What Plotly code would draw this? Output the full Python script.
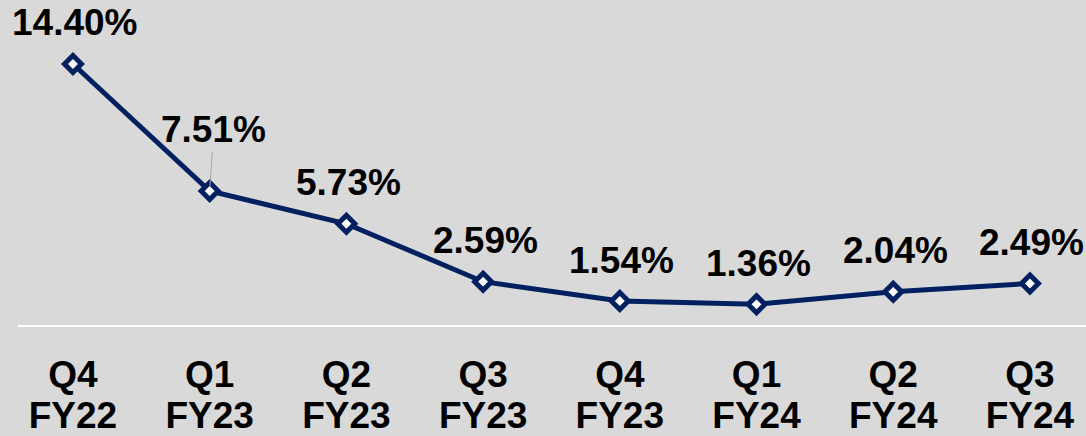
import plotly.graph_objects as go

quarter_names = ["Q4", "Q1", "Q2", "Q3", "Q4", "Q1", "Q2", "Q3"]
fiscal_years = ["FY22", "FY23", "FY23", "FY23", "FY23", "FY24", "FY24", "FY24"]
rates = [14.40, 7.51, 5.73, 2.59, 1.54, 1.36, 2.04, 2.49]
labels = ["14.40%", "7.51%", "5.73%", "2.59%", "1.54%", "1.36%", "2.04%", "2.49%"]

NAVY = "#002060"
BG = "#d9d9d9"
FONT = "Liberation Sans, Arial, sans-serif"
FSIZE = 37

pos = list(range(len(rates)))

fig = go.Figure()
fig.add_trace(go.Scatter(
    x=pos,
    y=rates,
    mode="lines+markers",
    line=dict(color=NAVY, width=5),
    marker=dict(symbol="diamond", size=13, color="white",
                line=dict(color=NAVY, width=5)),
    hoverinfo="skip",
))
# invisible trace so the second (year) axis gets drawn
fig.add_trace(go.Scatter(x=pos, y=rates, xaxis="x2", mode="none",
                         hoverinfo="skip"))

annotations = []
for i, (v, t) in enumerate(zip(rates, labels)):
    if i == 1:
        # this one sits higher with a small leader line
        annotations.append(dict(
            x=i, y=v, text=t, showarrow=True, arrowhead=0, arrowwidth=1,
            arrowcolor="#a6a6a6", ax=4, ay=-61, standoff=5,
            font=dict(family=FONT, size=FSIZE, color="black", weight="bold"),
        ))
    else:
        annotations.append(dict(
            x=i, y=v, text=t, showarrow=False, yshift=41, xshift=2,
            font=dict(family=FONT, size=FSIZE, color="black", weight="bold"),
        ))

tickfont = dict(family=FONT, size=FSIZE, color="black", weight="bold")

fig.update_layout(
    width=1086, height=436,
    margin=dict(l=18, r=0, t=0, b=111, pad=0),
    paper_bgcolor=BG, plot_bgcolor=BG,
    showlegend=False,
    annotations=annotations,
    xaxis=dict(
        range=[-0.402, 7.41], automargin=False,
        tickmode="array", tickvals=pos, ticktext=quarter_names,
        showgrid=False, zeroline=False,
        showline=True, linecolor="white", linewidth=1.5,
        ticks="", tickfont=tickfont, ticklabelstandoff=16,
    ),
    xaxis2=dict(
        range=[-0.402, 7.41], overlaying="x", side="bottom", anchor="y",
        automargin=False,
        tickmode="array", tickvals=pos, ticktext=fiscal_years,
        showgrid=False, zeroline=False, showline=False,
        ticks="", tickfont=tickfont, ticklabelstandoff=65,
    ),
    yaxis=dict(range=[0.24, 17.87], visible=False, automargin=False),
)

fig.write_html("out.html", config={"displayModeBar": False},
               post_script="document.body.style.margin='0';")
